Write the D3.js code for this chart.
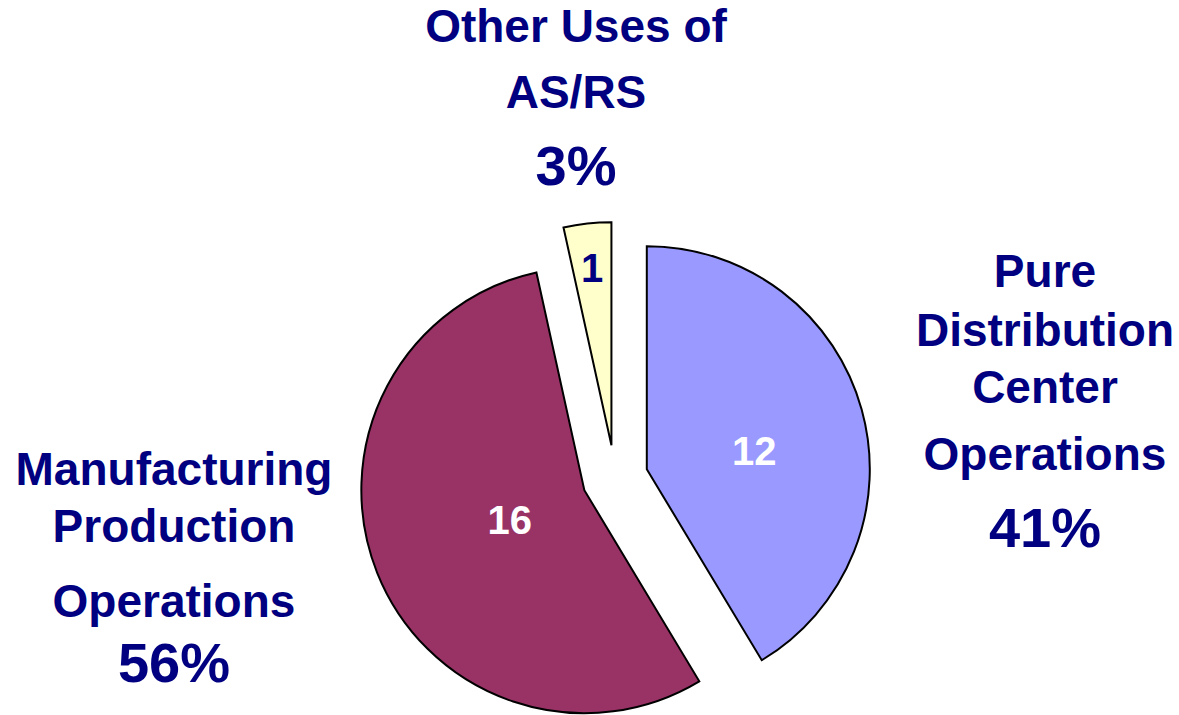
<!DOCTYPE html>
<html>
<head>
<meta charset="utf-8">
<script src="https://cdn.jsdelivr.net/npm/d3@7"></script>
<style>
  html, body { margin: 0; padding: 0; background: #fff; }
  svg { display: block; }
  text { font-family: "Liberation Sans", Arial, sans-serif; font-weight: bold; }
</style>
</head>
<body>
<div id="chart"></div>
<script>
// data
var categories = ["Pure Distribution Center Operations", "Manufacturing Production Operations", "Other Uses of AS/RS"];
var counts = [12, 16, 1];
var percentLabels = ["41%", "56%", "3%"];
var nameLines = [
    ["Pure", "Distribution", "Center", "Operations"],
    ["Manufacturing", "Production", "Operations"],
    ["Other Uses of", "AS/RS"]
];
var colors = ["#9999FF", "#993366", "#FFFFCC"];
var valueColors = ["#ffffff", "#ffffff", "#000080"];

// layout
var width = 1179, height = 715;
var cx = 615, cy = 478, radius = 223, explode = 33;
var labelFrac = [0.5, 0.36, 0.8];
var labelDy = [12, 0, 0];
var blocks = [
    { x: 1045, baselines: [287, 346, 403, 470, 547] },
    { x: 174, baselines: [485, 542, 617, 682] },
    { x: 576, baselines: [42, 108, 185] }
];
var navy = "#000080";

var svg = d3.select("#chart").append("svg")
    .attr("width", width)
    .attr("height", height);

var pie = d3.pie().sort(null).value(function (d) { return d; });
var arcs = pie(counts);

var arc = d3.arc().innerRadius(0).outerRadius(radius);

function dir(d) {
    var a = (d.startAngle + d.endAngle) / 2;
    return [Math.sin(a), -Math.cos(a)];
}

var slices = svg.append("g")
    .attr("transform", "translate(" + cx + "," + cy + ")")
    .selectAll("g")
    .data(arcs)
    .enter().append("g")
    .attr("transform", function (d) {
        var v = dir(d);
        return "translate(" + v[0] * explode + "," + v[1] * explode + ")";
    });

slices.append("path")
    .attr("d", arc)
    .attr("fill", function (d, i) { return colors[i]; })
    .attr("stroke", "#000")
    .attr("stroke-width", 2)
    .attr("stroke-linejoin", "miter");

slices.append("text")
    .attr("x", function (d, i) { return dir(d)[0] * radius * labelFrac[i]; })
    .attr("y", function (d, i) { return dir(d)[1] * radius * labelFrac[i] + 14 + labelDy[i]; })
    .attr("text-anchor", "middle")
    .attr("font-size", 40)
    .attr("fill", function (d, i) { return valueColors[i]; })
    .text(function (d) { return d.data; });

// outside category labels
blocks.forEach(function (b, i) {
    var lines = nameLines[i].concat([percentLabels[i]]);
    var g = svg.append("g");
    lines.forEach(function (t, j) {
        var isPct = j === lines.length - 1;
        g.append("text")
            .attr("x", b.x)
            .attr("y", b.baselines[j])
            .attr("text-anchor", "middle")
            .attr("font-size", isPct ? 56 : 46)
            .attr("fill", navy)
            .text(t);
    });
});
</script>
</body>
</html>
